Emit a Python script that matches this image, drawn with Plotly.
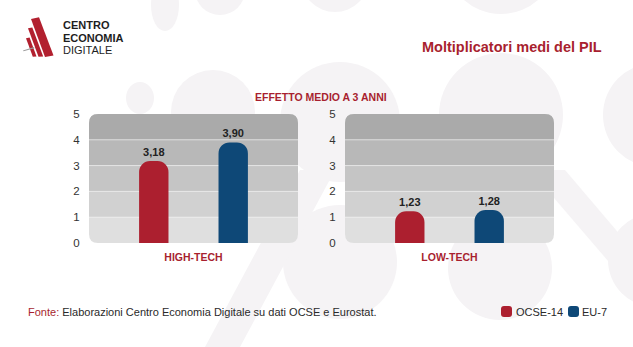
import plotly.graph_objects as go

# ---- data ----
groups = ["HIGH-TECH", "LOW-TECH"]
series_names = ["OCSE-14", "EU-7"]
ocse14 = [3.18, 1.23]
eu7 = [3.90, 1.28]
y_ticks = [0, 1, 2, 3, 4, 5]

title_text = "Moltiplicatori medi del PIL"
subtitle_text = "EFFETTO MEDIO A 3 ANNI"
source_label = "Fonte:"
source_text = " Elaborazioni Centro Economia Digitale su dati OCSE e Eurostat."
logo_lines = ["CENTRO", "ECONOMIA", "DIGITALE"]

RED = "#AC1F2F"
BLUE = "#0E4877"
TITLE_RED = "#A81F2F"
BAND_COLORS = ["#dfdfdf", "#d1d1d1", "#c5c5c5", "#b8b8b8", "#aaaaaa"]
BG_BLOB = "#f5f3f5"
FONT = "Liberation Sans"

W, H = 633, 347


def px(x):
    return x / W


def py(y):
    return 1 - y / H


def rrect(x0, y0, x1, y1, r, top=True, bottom=True):
    """Rounded rectangle path in pixel coords (y down) -> paper coords."""
    rt = r if top else 0
    rb = r if bottom else 0
    pts = []
    pts.append(f"M{px(x0 + rt)},{py(y0)}")
    pts.append(f"L{px(x1 - rt)},{py(y0)}")
    if rt:
        pts.append(f"Q{px(x1)},{py(y0)} {px(x1)},{py(y0 + rt)}")
    pts.append(f"L{px(x1)},{py(y1 - rb)}")
    if rb:
        pts.append(f"Q{px(x1)},{py(y1)} {px(x1 - rb)},{py(y1)}")
    pts.append(f"L{px(x0 + rb)},{py(y1)}")
    if rb:
        pts.append(f"Q{px(x0)},{py(y1)} {px(x0)},{py(y1 - rb)}")
    pts.append(f"L{px(x0)},{py(y0 + rt)}")
    if rt:
        pts.append(f"Q{px(x0)},{py(y0)} {px(x0 + rt)},{py(y0)}")
    pts.append("Z")
    return " ".join(pts)


def poly(points):
    s = "M" + " L".join(f"{px(x)},{py(y)}" for x, y in points) + " Z"
    return s


# panel geometry (pixels)
panels = [(89, 298), (345, 554)]
PY0, PY1 = 114, 243

fig = go.Figure()

for i, name in enumerate(series_names):
    vals = ocse14 if i == 0 else eu7
    color = RED if i == 0 else BLUE
    for j, g in enumerate(groups):
        fig.add_trace(go.Bar(
            x=[g], y=[vals[j]], name=name,
            marker=dict(color=color, line=dict(width=0)),
            xaxis="x" if j == 0 else "x2",
            yaxis="y" if j == 0 else "y2",
            texttemplate="%{y:.2f}", textposition="outside",
            textfont=dict(family=FONT, size=11, color="#222222", weight="bold"),
            cliponaxis=False, showlegend=False, hoverinfo="skip",
        ))

shapes = []

# faint decorative background blobs
blobs = [
    (165, 5, 14, 26), (220, -10, 25, 25), (335, -22, 34, 34), (501, -42, 56, 56),
    (140, 98, 14, 16), (213, 112, 42, 42), (340, 122, 60, 60), (501, 115, 62, 62),
    (655, 115, 52, 52), (340, 262, 57, 57), (500, 268, 52, 52), (655, 260, 47, 47),
]
for cx, cy, rx, ry in blobs:
    shapes.append(dict(type="circle", xref="paper", yref="paper",
                       x0=px(cx - rx), x1=px(cx + rx), y0=py(cy + ry), y1=py(cy - ry),
                       fillcolor=BG_BLOB, line=dict(width=0), layer="below"))
# faint diagonal strokes
shapes.append(dict(type="path", xref="paper", yref="paper",
                   path=poly([(300, 170), (335, 170), (240, 347), (205, 347)]),
                   fillcolor=BG_BLOB, line=dict(width=0), layer="below"))
shapes.append(dict(type="path", xref="paper", yref="paper",
                   path=poly([(530, 170), (565, 170), (633, 250), (633, 290)]),
                   fillcolor=BG_BLOB, line=dict(width=0), layer="below"))

unit = (PY1 - PY0) / 5.0
for (x0, x1), yref in zip(panels, ["y", "y2"]):
    # full box in lightest band colour
    shapes.append(dict(type="path", xref="paper", yref="paper",
                       path=rrect(x0, PY0, x1, PY1, 9),
                       fillcolor=BAND_COLORS[0], line=dict(width=0), layer="below"))
    xd = "x domain" if yref == "y" else "x2 domain"
    for k in range(1, 4):
        shapes.append(dict(type="rect", xref=xd, yref=yref, x0=0, x1=1,
                           y0=k, y1=k + 1, fillcolor=BAND_COLORS[k],
                           line=dict(width=0), layer="below"))
    shapes.append(dict(type="path", xref="paper", yref="paper",
                       path=rrect(x0, PY0, x1, PY0 + unit, 9, top=True, bottom=False),
                       fillcolor=BAND_COLORS[4], line=dict(width=0), layer="below"))
    for k in range(1, 5):
        shapes.append(dict(type="line", xref=xd, yref=yref, x0=0, x1=1, y0=k, y1=k,
                           line=dict(color="rgba(255,255,255,0.55)", width=1),
                           layer="below"))

# logo marks
shapes.append(dict(type="path", xref="paper", yref="paper",
                   path=poly([(31, 19), (39, 17.3), (53.5, 55.5), (45, 57)]),
                   fillcolor="#B2202F", line=dict(width=0)))
shapes.append(dict(type="path", xref="paper", yref="paper",
                   path=poly([(28, 28.3), (32.3, 27.5), (43.2, 56.6), (38.5, 56.8)]),
                   fillcolor="#B2202F", line=dict(width=0)))
shapes.append(dict(type="path", xref="paper", yref="paper",
                   path=poly([(26, 38.3), (29.6, 37.6), (36.5, 56.5), (32.8, 56.7)]),
                   fillcolor="#B2202F", line=dict(width=0)))
shapes.append(dict(type="path", xref="paper", yref="paper",
                   path=poly([(23, 50.5), (34, 47), (34.5, 48.3), (23.5, 51.3)]),
                   fillcolor="#9a9a9a", line=dict(width=0)))

# custom legend swatches
for (lx, col) in [(501, RED), (568, BLUE)]:
    shapes.append(dict(type="path", xref="paper", yref="paper",
                       path=rrect(lx, 306, lx + 11, 317, 3),
                       fillcolor=col, line=dict(width=0)))

annotations = []
annotations.append(dict(text=title_text, xref="paper", yref="paper",
                        x=px(604), y=py(47.5), xanchor="right", yanchor="middle",
                        showarrow=False,
                        font=dict(family=FONT, size=14.5, color=TITLE_RED, weight="bold")))
annotations.append(dict(text=subtitle_text, xref="paper", yref="paper",
                        x=px(321), y=py(97.5), xanchor="center", yanchor="middle",
                        showarrow=False,
                        font=dict(family=FONT, size=10.5, color=TITLE_RED, weight="bold")))
annotations.append(dict(text=f"<span style='color:{TITLE_RED}'>{source_label}</span>{source_text}",
                        xref="paper", yref="paper", x=px(26), y=py(311.5),
                        xanchor="left", yanchor="middle", showarrow=False,
                        font=dict(family=FONT, size=11, color="#2a2a2a")))
for lx, name in [(514, series_names[0]), (580, series_names[1])]:
    annotations.append(dict(text=name, xref="paper", yref="paper", x=px(lx), y=py(311.5),
                            xanchor="left", yanchor="middle", showarrow=False,
                            font=dict(family=FONT, size=11, color="#2a2a2a")))
for k, (line, ly) in enumerate(zip(logo_lines, [25.3, 37.8, 50.3])):
    annotations.append(dict(text=line, xref="paper", yref="paper", x=px(62), y=py(ly),
                            xanchor="left", yanchor="middle", showarrow=False,
                            borderpad=0,
                            font=dict(family=FONT, size=11, color="#1e1e1e",
                                      weight="bold" if k < 2 else "normal")))

ydom = [py(PY1), py(PY0)]
axis_common_y = dict(range=[0, 5], tickvals=y_ticks, showgrid=False, zeroline=False,
                     showline=False, ticks="outside", ticklen=6,
                     tickcolor="rgba(0,0,0,0)", automargin=False,
                     tickfont=dict(family=FONT, size=11.5, color="#333333"),
                     fixedrange=True)
axis_common_x = dict(showgrid=False, zeroline=False, showline=False, ticks="outside",
                     ticklen=4, tickcolor="rgba(0,0,0,0)", automargin=False,
                     tickfont=dict(family=FONT, size=10.5, color=TITLE_RED, weight="bold"),
                     fixedrange=True)

fig.update_layout(
    width=W, height=H, autosize=False,
    margin=dict(l=0, r=0, t=0, b=0),
    paper_bgcolor="white", plot_bgcolor="rgba(0,0,0,0)",
    template="none",
    separators=",.",
    barmode="group", bargap=0.24, bargroupgap=0.63, barcornerradius=11,
    xaxis=dict(domain=[px(panels[0][0]), px(panels[0][1])], anchor="y", **axis_common_x),
    yaxis=dict(domain=ydom, anchor="x", **axis_common_y),
    xaxis2=dict(domain=[px(panels[1][0]), px(panels[1][1])], anchor="y2", **axis_common_x),
    yaxis2=dict(domain=ydom, anchor="x2", **axis_common_y),
    shapes=shapes,
    annotations=annotations,
    showlegend=False,
    font=dict(family=FONT),
)

fig.write_html("out.html")
